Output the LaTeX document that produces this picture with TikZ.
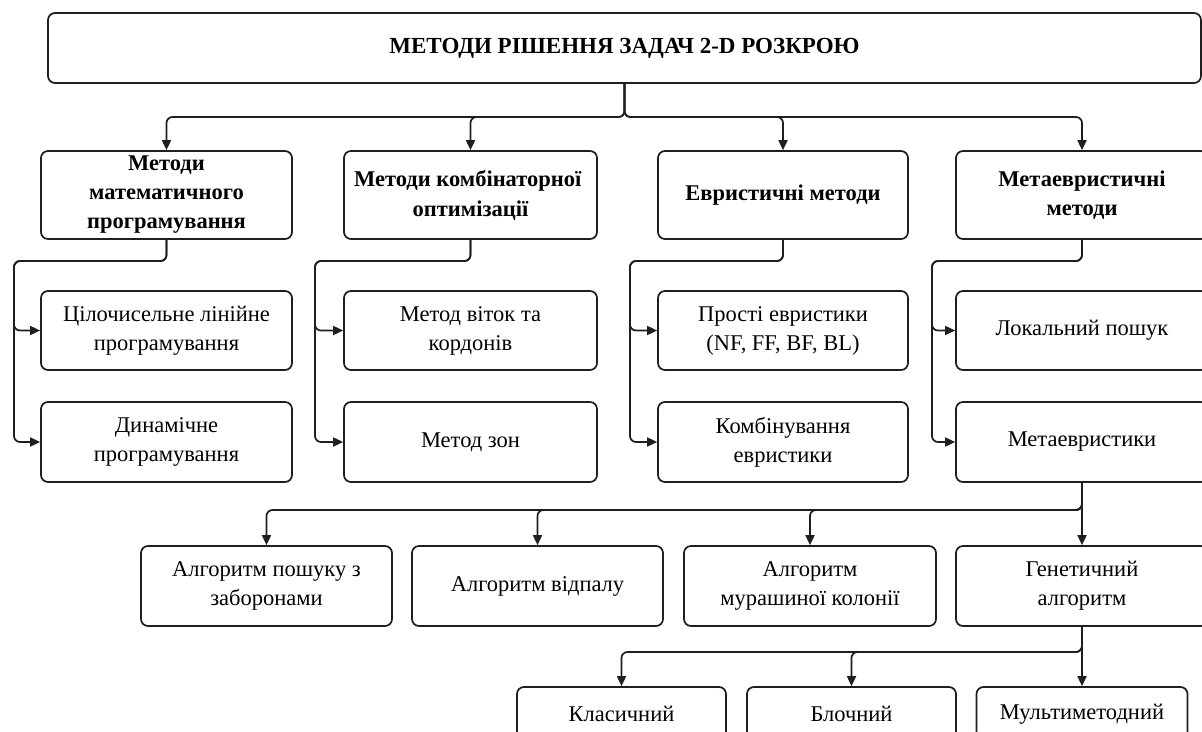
\documentclass[tikz,border=0pt]{standalone}
\usepackage{fontspec}
\setmainfont{Liberation Serif}
\usetikzlibrary{arrows.meta}
\begin{document}
\begin{tikzpicture}[x=1pt,y=-1pt,
  box/.style={draw=black!88, line width=1.7pt, rounded corners=7pt, align=center, inner sep=0pt,
    font=\fontsize{22.5}{29}\selectfont},
  hbox/.style={box, font=\fontsize{22.5}{29}\selectfont\bfseries},
  tbox/.style={box, font=\fontsize{23}{26}\selectfont\bfseries},
  conn/.style={draw=black!88, line width=1.7pt, rounded corners=6pt, -{Triangle[length=10pt,width=9pt]}},
]
\clip (0,0) rectangle (1202,731);
\fill[white] (0,0) rectangle (1202,731);

% top
\node[tbox, minimum width=1153pt, minimum height=70pt] (top) at (624.5,48) {МЕТОДИ РІШЕННЯ ЗАДАЧ 2-D РОЗКРОЮ};

% level 1
\node[hbox, minimum width=251pt, minimum height=88pt] (A) at (166.5,195) {Методи\\математичного\\програмування};
\node[hbox, minimum width=253pt, minimum height=88pt] (B) at (470.5,195) {};
\begin{scope}
  \clip (B.south west) rectangle (B.north east);
  \node[font=\fontsize{22.5}{29}\selectfont\bfseries, inner sep=0pt, anchor=west] (Bt1) at (354,181) {Методи комбінаторної};
  \node[font=\fontsize{22.5}{29}\selectfont\bfseries, inner sep=0pt] (Bt2) at (470.5,211) {оптимізації};
\end{scope}
\node[hbox, minimum width=250pt, minimum height=88pt] (C) at (783,195) {Евристичні методи};
\node[hbox, minimum width=252pt, minimum height=88pt] (D) at (1082,195) {Метаевристичні\\методи};

% level 2
\node[box, minimum width=251pt, minimum height=79pt] (A1) at (166.5,330.5) {Цілочисельне лінійне\\програмування};
\node[box, minimum width=251pt, minimum height=80pt] (A2) at (166.5,442) {Динамічне\\програмування};
\node[box, minimum width=253pt, minimum height=79pt] (B1) at (470.5,330.5) {Метод віток та\\кордонів};
\node[box, minimum width=253pt, minimum height=80pt] (B2) at (470.5,442) {Метод зон};
\node[box, minimum width=250pt, minimum height=79pt] (C1) at (783,330.5) {Прості евристики\\(NF, FF, BF, BL)};
\node[box, minimum width=250pt, minimum height=80pt] (C2) at (783,442) {Комбінування\\евристики};
\node[box, minimum width=252pt, minimum height=79pt] (D1) at (1082,330.5) {Локальний пошук};
\node[box, minimum width=252pt, minimum height=80pt] (D2) at (1082,442) {Метаевристики};

% level 3
\node[box, minimum width=251pt, minimum height=80pt] (G1) at (266.5,586) {Алгоритм пошуку з\\заборонами};
\node[box, minimum width=251pt, minimum height=80pt] (G2) at (537.5,586) {Алгоритм відпалу};
\node[box, minimum width=252pt, minimum height=80pt] (G3) at (810,586) {Алгоритм\\мурашиної колонії};
\node[box, minimum width=252pt, minimum height=80pt] (G4) at (1082,586) {Генетичний\\алгоритм};

% level 4
\node[box, minimum width=209pt, minimum height=54pt] (K1) at (621.5,714) {Класичний};
\node[box, minimum width=209pt, minimum height=54pt] (K2) at (851.5,714) {Блочний};
\node[box, minimum width=211pt, minimum height=54pt] (K3) at (1082,714) {Мультиметодний};

% connectors level 1
\foreach \n in {A,B,C,D}{
  \draw[conn] (top.south) -- (624.5,117) -- (\n.north |- 0,117) -- (\n.north);
}
% level 2
\foreach \p/\bx in {A/14,B/315,C/630,D/932}{
  \draw[conn] (\p.south) -- (\p.south |- 0,261) -- (\bx,261) -- (\bx,330.5) -- (\p1.west);
  \draw[conn] (\p.south) -- (\p.south |- 0,261) -- (\bx,261) -- (\bx,442) -- (\p2.west);
}
% level 3
\foreach \n in {G1,G2,G3}{
  \draw[conn] (D2.south) -- (1082,510) -- (\n.north |- 0,510) -- (\n.north);
}
\draw[conn] (D2.south) -- (G4.north);
% level 4
\foreach \n in {K1,K2}{
  \draw[conn] (G4.south) -- (1082,652) -- (\n.north |- 0,652) -- (\n.north);
}
\draw[conn] (G4.south) -- (K3.north);
\end{tikzpicture}
\end{document}
